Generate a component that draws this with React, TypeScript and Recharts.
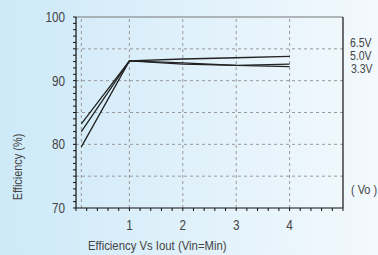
import React from "react";
import { LineChart, Line, XAxis, YAxis, ReferenceLine } from "recharts";

const loads = [0.1, 1, 2, 3, 4];
const eff65 = [83.2, 93.1, 93.4, 93.6, 93.8];
const eff50 = [82.0, 93.1, 92.6, 92.4, 92.6];
const eff33 = [79.6, 93.1, 92.8, 92.4, 92.2];
const seriesNames = ["6.5V", "5.0V", "3.3V"];

const yTicks = [70,71,72,73,74,75,76,77,78,79,80,81,82,83,84,85,86,87,88,89,90,91,92,93,94,95,96,97,98,99,100];
const xTicks = [0,0.2,0.4,0.6,0.8,1,1.2,1.4,1.6,1.8,2,2.2,2.4,2.6,2.8,3,3.2,3.4,3.6,3.8,4,4.2,4.4,4.6,4.8,5];
const xLabelTicks = [1, 2, 3, 4];
const yLabelTicks = [70, 80, 90, 100];
const gridY = [75, 80, 85, 90, 95];
const gridX = [0.1, 1, 2, 3, 4];

const data = loads.map((x, i) => ({ x, a: eff65[i], b: eff50[i], c: eff33[i] }));

const FONT = "'Liberation Sans', Arial, sans-serif";
const SX = 0.84;

const labelStyle: React.CSSProperties = {
  position: "absolute",
  fontFamily: FONT,
  fontSize: 14,
  color: "#444",
  lineHeight: "14px",
  whiteSpace: "nowrap",
  transformOrigin: "0 0",
  transform: `scale(${SX},1)`,
};

const YTick = (props: any) => {
  const { x, y, payload } = props;
  const v = payload.value;
  if (!yLabelTicks.includes(v)) return null;
  return (
    <text
      transform={`translate(${x},${y}) scale(${SX},1)`}
      x={0}
      y={0}
      dy="0.36em"
      textAnchor="end"
      fill="#444"
      fontSize={14}
      fontFamily={FONT}
    >
      {String(v)}
    </text>
  );
};

const XTick = (props: any) => {
  const { x, y, payload } = props;
  const r = Math.round(payload.value * 10) / 10;
  if (!xLabelTicks.includes(r)) return null;
  return (
    <text
      transform={`translate(${x},${y}) scale(${SX},1)`}
      x={0}
      y={0}
      dy="0.71em"
      textAnchor="middle"
      fill="#444"
      fontSize={14}
      fontFamily={FONT}
    >
      {String(r)}
    </text>
  );
};

export default function App() {
  return (
    <div
      style={{
        position: "absolute",
        left: 0,
        top: 0,
        width: 378,
        height: 255,
        background: "linear-gradient(to right, #cde9f8, #f3f9fd)",
        overflow: "hidden",
      }}
    >
      <LineChart width={378} height={255} data={data} margin={{ top: 17, right: 35, bottom: 17, left: 16 }}>
        {gridY.map((v) => (
          <ReferenceLine key={"gy" + v} y={v} stroke="#999" strokeDasharray="3 3" strokeWidth={1} />
        ))}
        {gridX.map((v) => (
          <ReferenceLine key={"gx" + v} x={v} stroke="#999" strokeDasharray="3 3" strokeWidth={1} />
        ))}
        <ReferenceLine y={100} stroke="#777" strokeWidth={1} />
        <ReferenceLine x={5} stroke="#111" strokeWidth={1.2} />
        <XAxis
          type="number"
          dataKey="x"
          domain={[0, 5]}
          ticks={xTicks}
          interval={0}
          height={30}
          tickSize={3}
          tickMargin={9}
          axisLine={{ stroke: "#111", strokeWidth: 1.2 }}
          tickLine={{ stroke: "#111" }}
          tick={<XTick />}
        />
        <YAxis
          type="number"
          domain={[70, 100]}
          ticks={yTicks}
          interval={0}
          width={60}
          tickSize={3}
          tickMargin={8}
          axisLine={{ stroke: "#111", strokeWidth: 1.2 }}
          tickLine={{ stroke: "#111" }}
          tick={<YTick />}
        />
        <Line dataKey="a" name={seriesNames[0]} stroke="#222" strokeWidth={1.3} dot={false} isAnimationActive={false} />
        <Line dataKey="b" name={seriesNames[1]} stroke="#222" strokeWidth={1.3} dot={false} isAnimationActive={false} />
        <Line dataKey="c" name={seriesNames[2]} stroke="#222" strokeWidth={1.3} dot={false} isAnimationActive={false} />
      </LineChart>
      <div style={{ ...labelStyle, left: 350, top: 37, fontSize: 12.5, lineHeight: "12px" }}>{seriesNames[0]}</div>
      <div style={{ ...labelStyle, left: 350, top: 50, fontSize: 12.5, lineHeight: "12px" }}>{seriesNames[1]}</div>
      <div style={{ ...labelStyle, left: 351, top: 63, fontSize: 12.5, lineHeight: "12px" }}>{seriesNames[2]}</div>
      <div style={{ ...labelStyle, left: 351, top: 183, fontSize: 13, lineHeight: "13px" }}>( Vo )</div>
      <div style={{ ...labelStyle, left: 88, top: 239, fontSize: 13.5 }}>Efficiency Vs Iout (Vin=Min)</div>
      <div
        style={{
          ...labelStyle,
          fontSize: 13,
          left: 18,
          top: 167,
          transformOrigin: "50% 50%",
          transform: `translate(-50%, -50%) rotate(-90deg) scale(${SX},1)`,
        }}
      >
        Efficiency (%)
      </div>
    </div>
  );
}
